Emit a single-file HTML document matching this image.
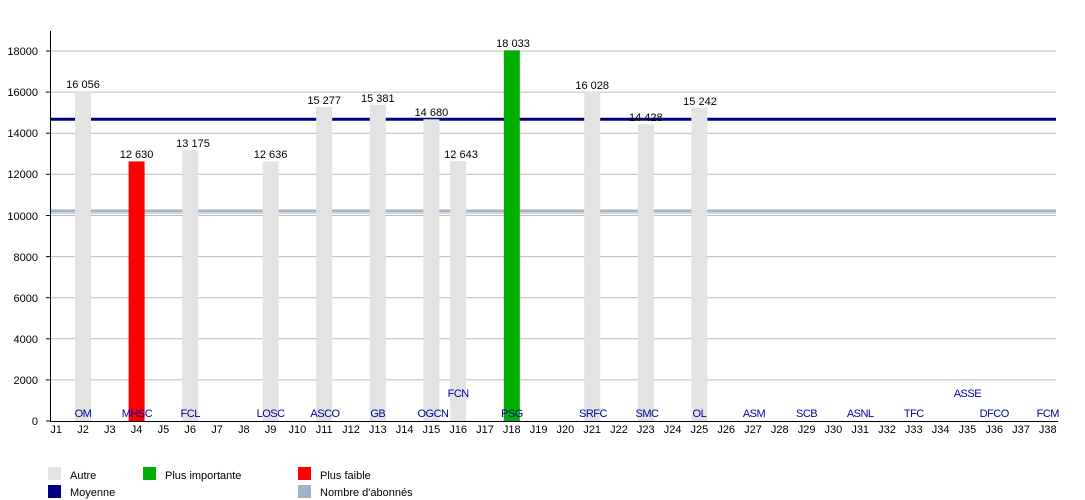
<!DOCTYPE html>
<html><head><meta charset="utf-8"><style>
body{margin:0;background:#fff;}
svg{display:block;font-family:"Liberation Sans",Arial,sans-serif;}
</style></head><body>
<svg width="1085" height="500" viewBox="0 0 1085 500">
<g stroke="#bbb" stroke-width="1">
<line x1="50" x2="1056" y1="379.9" y2="379.9"/>
<line x1="50" x2="1056" y1="338.8" y2="338.8"/>
<line x1="50" x2="1056" y1="297.7" y2="297.7"/>
<line x1="50" x2="1056" y1="256.6" y2="256.6"/>
<line x1="50" x2="1056" y1="215.5" y2="215.5"/>
<line x1="50" x2="1056" y1="174.3" y2="174.3"/>
<line x1="50" x2="1056" y1="133.2" y2="133.2"/>
<line x1="50" x2="1056" y1="92.1" y2="92.1"/>
<line x1="50" x2="1056" y1="51" y2="51"/>
</g>
<line x1="50" x2="1056" y1="210.8" y2="210.8" stroke="#9fb4c8" stroke-width="2.5"/>
<line x1="50" x2="1056" y1="213" y2="213" stroke="#c4c4c4" stroke-width="1.5"/>
<line x1="50" x2="1056" y1="119.3" y2="119.3" stroke="#000080" stroke-width="3"/>
<g fill="#e3e3e3">
<rect x="75" y="91" width="16" height="330"/>
<rect x="182.2" y="150.2" width="16" height="270.8"/>
<rect x="262.6" y="161.3" width="16" height="259.7"/>
<rect x="316.2" y="107" width="16" height="314"/>
<rect x="369.8" y="104.8" width="16" height="316.2"/>
<rect x="423.4" y="119.3" width="16" height="301.7"/>
<rect x="450.2" y="161.1" width="16" height="259.9"/>
<rect x="584.2" y="91.5" width="16" height="329.5"/>
<rect x="637.8" y="124.4" width="16" height="296.6"/>
<rect x="691.4" y="107.7" width="16" height="313.3"/>
</g>
<rect x="128.6" y="161.4" width="16" height="259.6" fill="#ff0000"/>
<rect x="503.8" y="50.3" width="16" height="370.7" fill="#00b000"/>
<g font-size="11" fill="#000" text-anchor="middle">
<text x="83" y="88">16 056</text>
<text x="136.6" y="158">12 630</text>
<text x="193" y="147">13 175</text>
<text x="270.6" y="158">12 636</text>
<text x="324.2" y="104">15 277</text>
<text x="377.8" y="102">15 381</text>
<text x="431.4" y="116">14 680</text>
<text x="461" y="158">12 643</text>
<text x="513" y="47">18 033</text>
<text x="592.2" y="89">16 028</text>
<text x="645.8" y="121">14 428</text>
<text x="700" y="105">15 242</text>
</g>
<g font-size="11" fill="#0000a0" text-anchor="middle" letter-spacing="-0.5">
<text x="83" y="417">OM</text>
<text x="137" y="417">MHSC</text>
<text x="190.2" y="417">FCL</text>
<text x="270.6" y="417">LOSC</text>
<text x="325" y="417">ASCO</text>
<text x="377.8" y="417">GB</text>
<text x="433" y="417">OGCN</text>
<text x="458.2" y="397">FCN</text>
<text x="512" y="417">PSG</text>
<text x="593" y="417">SRFC</text>
<text x="647" y="417">SMC</text>
<text x="699.4" y="417">OL</text>
<text x="754" y="417">ASM</text>
<text x="806.6" y="417">SCB</text>
<text x="860.2" y="417">ASNL</text>
<text x="913.8" y="417">TFC</text>
<text x="967.4" y="397">ASSE</text>
<text x="994.2" y="417">DFCO</text>
<text x="1047.8" y="417">FCM</text>
</g>
<line x1="50.5" x2="50.5" y1="31" y2="421" stroke="#000" stroke-width="1"/>
<line x1="50" x2="1058" y1="421.5" y2="421.5" stroke="#000" stroke-width="1"/>
<g stroke="#000"><line x1="46" x2="50" y1="421" y2="421"/><line x1="46" x2="50" y1="379.9" y2="379.9"/><line x1="46" x2="50" y1="338.8" y2="338.8"/><line x1="46" x2="50" y1="297.7" y2="297.7"/><line x1="46" x2="50" y1="256.6" y2="256.6"/><line x1="46" x2="50" y1="215.5" y2="215.5"/><line x1="46" x2="50" y1="174.3" y2="174.3"/><line x1="46" x2="50" y1="133.2" y2="133.2"/><line x1="46" x2="50" y1="92.1" y2="92.1"/><line x1="46" x2="50" y1="51" y2="51"/></g>
<g font-size="11" fill="#000" text-anchor="end">
<text x="38" y="425">0</text>
<text x="38" y="384">2000</text>
<text x="38" y="343">4000</text>
<text x="38" y="302">6000</text>
<text x="38" y="261">8000</text>
<text x="38" y="220">10000</text>
<text x="38" y="178">12000</text>
<text x="38" y="137">14000</text>
<text x="38" y="96">16000</text>
<text x="38" y="55">18000</text>
</g>
<g font-size="11" fill="#000" text-anchor="middle">
<text x="56.2" y="433">J1</text><text x="83" y="433">J2</text><text x="109.8" y="433">J3</text><text x="136.6" y="433">J4</text><text x="163.4" y="433">J5</text><text x="190.2" y="433">J6</text><text x="217" y="433">J7</text><text x="243.8" y="433">J8</text><text x="270.6" y="433">J9</text><text x="297.4" y="433">J10</text><text x="324.2" y="433">J11</text><text x="351" y="433">J12</text><text x="377.8" y="433">J13</text><text x="404.6" y="433">J14</text><text x="431.4" y="433">J15</text><text x="458.2" y="433">J16</text><text x="485" y="433">J17</text><text x="511.8" y="433">J18</text><text x="538.6" y="433">J19</text><text x="565.4" y="433">J20</text><text x="592.2" y="433">J21</text><text x="619" y="433">J22</text><text x="645.8" y="433">J23</text><text x="672.6" y="433">J24</text><text x="699.4" y="433">J25</text><text x="726.2" y="433">J26</text><text x="753" y="433">J27</text><text x="779.8" y="433">J28</text><text x="806.6" y="433">J29</text><text x="833.4" y="433">J30</text><text x="860.2" y="433">J31</text><text x="887" y="433">J32</text><text x="913.8" y="433">J33</text><text x="940.6" y="433">J34</text><text x="967.4" y="433">J35</text><text x="994.2" y="433">J36</text><text x="1021" y="433">J37</text><text x="1047.8" y="433">J38</text>
</g>
<rect x="48" y="467" width="13" height="13" fill="#e3e3e3"/>
<rect x="48" y="485" width="13" height="13" fill="#000080"/>
<rect x="143" y="467" width="13" height="13" fill="#00b000"/>
<rect x="298" y="467" width="13" height="13" fill="#ff0000"/>
<rect x="298" y="485" width="13" height="13" fill="#9fb4c8"/>
<g font-size="11" fill="#000">
<text x="70" y="479">Autre</text>
<text x="70" y="496">Moyenne</text>
<text x="165" y="479">Plus importante</text>
<text x="320" y="479">Plus faible</text>
<text x="320" y="496">Nombre d'abonnés</text>
</g>
</svg>
</body></html>
